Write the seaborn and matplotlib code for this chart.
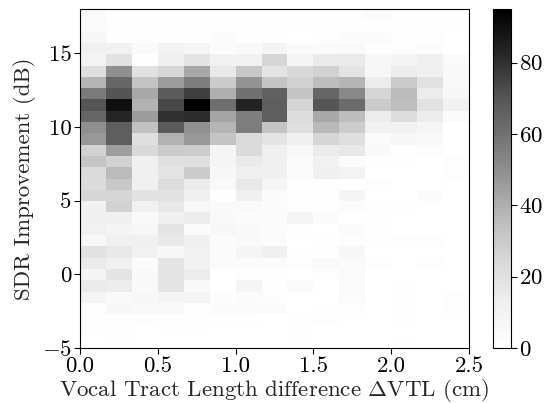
"""
2D histogram of SDR improvement vs vocal tract length difference
"""

import matplotlib
matplotlib.use('AGG')
import matplotlib.pyplot as plt
import numpy as np
import pandas as pd
import seaborn as sns

# bin edges of the histogram
x_edges = np.linspace(0.0, 2.5, 16)   # delta VTL (cm), 15 bins
y_edges = np.linspace(-5.0, 18.0, 31)  # SDR improvement (dB), 30 bins

# counts per cell, rows from top (high SDR) to bottom (low SDR), 15 columns each
counts = [
    [4, 1, 2, 2, 1, 2, 2, 1, 1, 2, 2, 3, 1, 1, 1],
    [3, 2, 2, 1, 2, 2, 1, 2, 2, 1, 1, 1, 2, 1, 1],
    [6, 2, 2, 2, 2, 3, 1, 2, 0, 2, 3, 3, 2, 2, 0],
    [12, 11, 5, 10, 8, 3, 5, 9, 4, 4, 5, 2, 2, 3, 0],
    [10, 19, 2, 12, 18, 11, 11, 25, 8, 15, 15, 6, 9, 12, 4],
    [21, 50, 20, 25, 42, 16, 31, 18, 24, 27, 18, 6, 14, 12, 5],
    [38, 64, 33, 46, 56, 29, 48, 32, 27, 35, 38, 14, 30, 19, 5],
    [57, 70, 42, 68, 76, 40, 60, 66, 32, 64, 52, 25, 36, 14, 7],
    [70, 90, 39, 74, 95, 61, 84, 67, 26, 70, 62, 30, 35, 19, 11],
    [64, 83, 46, 80, 81, 43, 55, 67, 22, 42, 35, 14, 22, 14, 4],
    [50, 67, 34, 68, 49, 38, 56, 33, 21, 37, 29, 11, 11, 8, 0],
    [47, 67, 21, 39, 47, 33, 23, 18, 12, 25, 21, 3, 7, 5, 0],
    [27, 45, 24, 30, 29, 8, 23, 12, 7, 14, 16, 5, 1, 2, 0],
    [32, 27, 12, 21, 21, 8, 15, 12, 3, 11, 3, 1, 1, 0, 2],
    [23, 36, 12, 18, 29, 7, 12, 12, 3, 12, 10, 0, 0, 0, 2],
    [22, 31, 12, 22, 14, 5, 16, 8, 2, 2, 0, 2, 0, 0, 0],
    [25, 25, 19, 19, 12, 1, 12, 3, 2, 2, 8, 0, 0, 3, 0],
    [11, 27, 11, 17, 7, 5, 5, 3, 2, 2, 3, 2, 1, 0, 0],
    [12, 12, 5, 12, 14, 5, 3, 3, 8, 3, 0, 1, 0, 0, 0],
    [11, 9, 7, 18, 3, 7, 5, 3, 1, 0, 3, 1, 0, 0, 0],
    [7, 12, 12, 16, 12, 3, 5, 3, 0, 1, 2, 1, 2, 2, 0],
    [19, 16, 11, 7, 11, 3, 8, 12, 1, 2, 6, 0, 0, 0, 0],
    [15, 11, 3, 18, 11, 3, 3, 3, 2, 5, 4, 2, 0, 2, 0],
    [9, 18, 5, 18, 14, 0, 2, 2, 0, 2, 4, 0, 0, 0, 0],
    [15, 14, 5, 18, 5, 0, 8, 1, 4, 0, 4, 0, 1, 0, 0],
    [9, 5, 7, 9, 9, 2, 3, 2, 0, 0, 3, 0, 1, 0, 2],
    [2, 7, 5, 5, 2, 3, 3, 3, 0, 1, 2, 0, 1, 0, 2],
    [2, 2, 2, 1, 1, 1, 1, 0, 2, 2, 0, 0, 1, 0, 0],
    [2, 1, 0, 1, 1, 0, 0, 0, 1, 0, 0, 0, 0, 0, 0],
    [0, 1, 0, 0, 0, 0, 0, 0, 1, 0, 0, 0, 1, 0, 0],
]

x_ticks = [0.0, 0.5, 1.0, 1.5, 2.0, 2.5]
y_ticks = [-5, 0, 5, 10, 15]
cbar_ticks = [0, 20, 40, 60, 80]

sns.set_style('ticks')
plt.rcParams['font.family'] = 'serif'
plt.rcParams['font.serif'] = ['cmr10']
plt.rcParams['mathtext.fontset'] = 'cm'
plt.rcParams['axes.formatter.use_mathtext'] = True
plt.rcParams['axes.unicode_minus'] = True
plt.rcParams['axes.edgecolor'] = 'black'
plt.rcParams['xtick.color'] = 'black'
plt.rcParams['ytick.color'] = 'black'

fs = 16.5

# long form table: one row per cell, weighted by its count
x_centers = (x_edges[:-1] + x_edges[1:]) / 2
y_centers = (y_edges[:-1] + y_edges[1:]) / 2
rows = []
for i, row in enumerate(counts):
    yc = y_centers[len(counts) - 1 - i]
    for j, c in enumerate(row):
        rows.append((x_centers[j], yc, c))
df = pd.DataFrame(rows, columns=['dvtl', 'sdr', 'count'])

fig = plt.figure(figsize=(5.44, 4.03), dpi=100)
ax = fig.add_axes([80 / 544, 55 / 403, 389 / 544, 339 / 403])
cax = fig.add_axes([493 / 544, 55 / 403, 18 / 544, 339 / 403])

sns.histplot(data=df, x='dvtl', y='sdr', weights='count', bins=[x_edges, y_edges],
             cmap='Greys', vmin=0, cbar=True, cbar_ax=cax, ax=ax)

ax.set_xlim(0, 2.5)
ax.set_ylim(-5, 18)
ax.set_xticks(x_ticks)
ax.set_xticklabels(['0.0', '0.5', '1.0', '1.5', '2.0', '2.5'])
ax.set_yticks(y_ticks)
ax.set_yticklabels(['$-5$', '0', '5', '10', '15'])
ax.tick_params(labelsize=fs, length=4, width=0.8, pad=2)
ax.set_xlabel('Vocal Tract Length difference $\\Delta$VTL (cm)', fontsize=fs, labelpad=1)
ax.set_ylabel('SDR Improvement (dB)', fontsize=fs, labelpad=4)
for s in ax.spines.values():
    s.set_visible(True)
    s.set_linewidth(0.8)

cax.set_yticks(cbar_ticks)
cax.tick_params(labelsize=fs, length=4, width=0.8, pad=2)
for s in cax.spines.values():
    s.set_linewidth(0.8)

fig.savefig('out.png', dpi=100)
plt.close()
